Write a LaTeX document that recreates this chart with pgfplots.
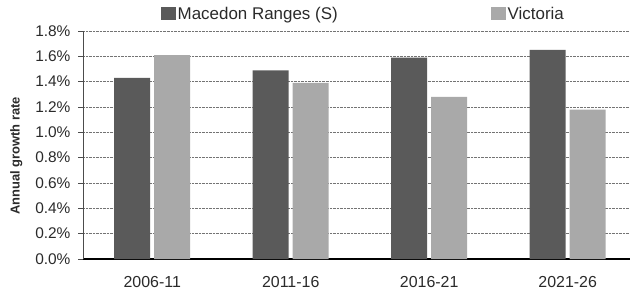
\documentclass[border=0pt]{standalone}
\usepackage{pgfplots}
\pgfplotsset{compat=1.18}
\usepackage{fontspec}
\setmainfont{Liberation Sans}
\definecolor{macedon}{HTML}{5A5A5A}
\definecolor{vic}{HTML}{A9A9A9}
\definecolor{txt}{HTML}{2A2A2A}
\begin{document}
\begin{tikzpicture}[x=1bp,y=1bp]
\useasboundingbox (0,0) rectangle (630,295);
\begin{axis}[
  at={(83bp,36bp)}, anchor=south west,
  scale only axis,
  width=547bp, height=228bp,
  ybar, bar width=36bp,
  xmin=-0.5, xmax=3.45,
  ymin=0, ymax=1.8,
  ytick={0,0.2,...,1.8},
  xtick=data,
  xticklabels={2006-11,2011-16,2016-21,2021-26},
  axis x line*=bottom, axis y line*=left,
  axis line style={black!80},
  x axis line style={black, line width=1.2pt},
  y axis line style={black!70, line width=0.8pt},
  x tick style={draw=none},
  y tick style={black!70, line width=0.8pt},
  tick align=outside,
  major tick length=5bp,
  ymajorgrids,
  major grid style={densely dotted, black!55, line width=0.6pt},
  /pgf/number format/assume math mode=true,
  yticklabel={\pgfmathprintnumber[fixed,fixed zerofill,precision=1]{\tick}\%},
  yticklabel style={font=\fontsize{15.5}{15.5}\selectfont, text=txt, xshift=-4bp},
  xticklabel style={font=\fontsize{16}{16}\selectfont, text=txt, yshift=-9bp},
  ylabel={\textbf{Annual growth rate}},
  ylabel style={font=\fontsize{13}{13}\selectfont, text=txt, at={(axis description cs:-0.122,0.452)}, anchor=center},
  legend style={draw=none, fill=none, legend columns=2, at={(axis description cs:0.1426,1.0746)}, anchor=west,
    font=\fontsize{17}{17}\selectfont, text=txt, inner sep=0pt,
    nodes={inner sep=1.5bp},
    /tikz/every even column/.append style={column sep=152bp}},
  legend image code/.code={\fill[#1,draw=none] (0bp,-6.5bp) rectangle (15bp,6.5bp);},
]
\addplot[fill=macedon, draw=none, bar shift=-20bp] coordinates {(0,1.43) (1,1.49) (2,1.59) (3,1.65)};
\addplot[fill=vic, draw=none, bar shift=20bp] coordinates {(0,1.61) (1,1.39) (2,1.28) (3,1.18)};
\legend{Macedon Ranges (S),Victoria}
\end{axis}
\end{tikzpicture}
\end{document}
